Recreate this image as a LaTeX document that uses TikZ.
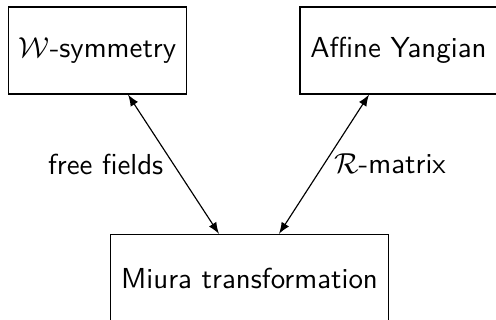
\documentclass[tikz,border=0pt]{standalone}
\usepackage{amsmath,amssymb}
\usepackage{tikz}

\tikzset{
    block/.style = {draw, font=\sffamily, minimum height=30.1pt, inner xsep=3.6pt},
    link/.style = {<->, >=latex}
}

\begin{document}
\begin{tikzpicture}[x=0.346pt, y=0.346pt]

    % \draw [help lines, step = 50] (0,0) grid (496,320);
    \useasboundingbox (0,0) rectangle (496,320);

    % boxes
    \node [block] (wsym) at (97.5,269.5) {$\mathcal{W}$-symmetry};
    \node [block] (yangian) at (398.5,269.5) {Affine Yangian};
    \node [block] (miura) at (249.5,42) {Miura transformation};

    % links
    \draw [link] ([xshift=10.55pt]wsym.south) -- ([xshift=-10.55pt]miura.north)
        node [midway, left, font=\sffamily] {free fields};
    \draw [link] ([xshift=-10.2pt]yangian.south) -- ([xshift=10.2pt]miura.north)
        node [midway, right, font=\sffamily] {$\mathcal{R}$-matrix};

\end{tikzpicture}
\end{document}
